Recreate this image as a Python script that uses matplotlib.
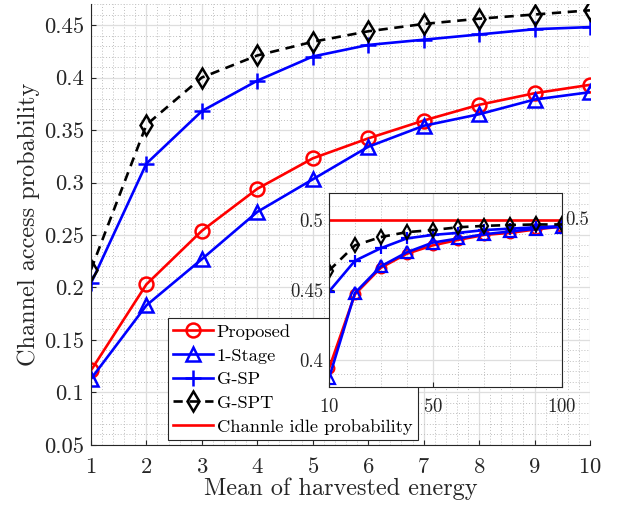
import matplotlib
matplotlib.use("Agg")
import matplotlib.pyplot as plt
from matplotlib.ticker import MultipleLocator, FixedLocator, FuncFormatter
import matplotlib.transforms as mtrans

plt.rcParams['font.family'] = ['cmr10', 'DejaVu Serif']
plt.rcParams['mathtext.fontset'] = 'cm'
plt.rcParams['axes.formatter.use_mathtext'] = True

# Main data
x = [1, 2, 3, 4, 5, 6, 7, 8, 9, 10]
proposed = [0.121, 0.203, 0.254, 0.294, 0.323, 0.342, 0.359, 0.374, 0.385, 0.393]
one_stage = [0.113, 0.183, 0.227, 0.272, 0.303, 0.334, 0.354, 0.365, 0.379, 0.386]
g_sp = [0.204, 0.318, 0.368, 0.397, 0.420, 0.431, 0.436, 0.441, 0.446, 0.448]
g_spt = [0.217, 0.355, 0.400, 0.421, 0.434, 0.444, 0.451, 0.456, 0.460, 0.464]

# Inset data
x_in = [10, 20, 30, 40, 50, 60, 70, 80, 90, 100]
proposed_in = [0.394, 0.447, 0.466, 0.476, 0.482, 0.486, 0.4895, 0.491, 0.4935, 0.4955]
one_stage_in = [0.387, 0.448, 0.467, 0.477, 0.484, 0.487, 0.490, 0.492, 0.494, 0.4955]
g_sp_in = [0.449, 0.471, 0.480, 0.487, 0.4895, 0.491, 0.493, 0.494, 0.495, 0.4958]
g_spt_in = [0.464, 0.482, 0.488, 0.4915, 0.493, 0.495, 0.496, 0.4966, 0.497, 0.497]
idle_prob = 0.5

labels = ['Proposed', '1-Stage', 'G-SP', 'G-SPT', 'Channle idle probability']

dark = (0.15, 0.15, 0.15)
lw = 1.9
fmt = FuncFormatter(lambda v, p: ('%.2f' % v).rstrip('0').rstrip('.'))

fig = plt.figure(figsize=(6.18, 5.07), dpi=100)
ax = fig.add_axes([0.1472, 0.1223, 0.8074, 0.8698])

def style_axes(a, fs, xpad, ypad):
    a.grid(True, which='major', color=(0.87, 0.87, 0.87), linewidth=0.9, linestyle='-')
    a.grid(True, which='minor', color=(0.75, 0.75, 0.75), linewidth=0.7, linestyle=(0, (1, 2)))
    a.set_axisbelow(True)
    a.tick_params(which='both', direction='in', colors=dark, labelsize=fs)
    a.tick_params(axis='x', pad=xpad)
    a.tick_params(axis='y', pad=ypad)
    a.tick_params(which='minor', length=0)
    for s in a.spines.values():
        s.set_color(dark)
        s.set_linewidth(0.8)

l1, = ax.plot(x, proposed, color='red', lw=lw, marker='o', ms=10, mfc='none', mew=1.8)
l2, = ax.plot(x, one_stage, color='blue', lw=lw, marker='^', ms=10, mfc='none', mew=1.8)
l3, = ax.plot(x, g_sp, color='blue', lw=lw, marker='+', ms=12, mew=1.8)
l4, = ax.plot(x, g_spt, color='black', lw=lw, ls=(0, (3.5, 2.5)), marker='d', ms=10, mfc='none', mew=1.8)
l5, = ax.plot([], [], color='red', lw=lw)

ax.set_xlim(1, 10)
ax.set_ylim(0.05, 0.47)
ax.xaxis.set_major_locator(MultipleLocator(1))
ax.yaxis.set_major_locator(FixedLocator([0.05, 0.1, 0.15, 0.2, 0.25, 0.3, 0.35, 0.4, 0.45]))
ax.yaxis.set_major_formatter(fmt)
ax.xaxis.set_minor_locator(MultipleLocator(0.2))
ax.yaxis.set_minor_locator(MultipleLocator(0.01))
style_axes(ax, 16.3, 9, 5)
ax.spines['top'].set_visible(False)
ax.spines['right'].set_visible(False)
ax.set_xlabel('Mean of harvested energy', fontsize=17.5, color=dark, labelpad=0)
ax.set_ylabel('Channel access probability', fontsize=17.5, color=dark, labelpad=3)

leg = ax.legend([l1, l2, l3, l4, l5], labels, loc='lower left', bbox_to_anchor=(0.154, 0.011),
                fontsize=13.3, frameon=True, fancybox=False, framealpha=1, edgecolor=dark,
                handlelength=2.15, handletextpad=0.2, borderpad=0.3, labelspacing=0.42,
                borderaxespad=0)
leg.get_frame().set_linewidth(0.8)

# Inset
axi = fig.add_axes([0.5324, 0.2367, 0.377, 0.3826])
axi.plot(x_in, [idle_prob] * len(x_in), color='red', lw=lw)
axi.plot(x_in, proposed_in, color='red', lw=lw, marker='o', ms=7, mfc='none', mew=1.6)
axi.plot(x_in, one_stage_in, color='blue', lw=lw, marker='^', ms=8, mfc='none', mew=1.6)
axi.plot(x_in, g_sp_in, color='blue', lw=lw, marker='+', ms=9, mew=1.6)
axi.plot(x_in, g_spt_in, color='black', lw=lw, ls=(0, (3.5, 2.5)), marker='d', ms=7, mfc='none', mew=1.6)
axi.set_xlim(10, 100)
axi.set_ylim(0.3807, 0.5195)
axi.xaxis.set_major_locator(FixedLocator([10, 50, 100]))
axi.yaxis.set_major_locator(FixedLocator([0.4, 0.45, 0.5]))
axi.yaxis.set_major_formatter(fmt)
axi.xaxis.set_minor_locator(MultipleLocator(10))
axi.yaxis.set_minor_locator(MultipleLocator(0.01))
style_axes(axi, 13.5, 8, 4)
axi.set_facecolor('white')
axi.text(1.012, 0.5, '0.5', transform=mtrans.blended_transform_factory(axi.transAxes, axi.transData),
         fontsize=13.5, color=dark, va='center', ha='left')

fig.savefig('out.png', dpi=100)
